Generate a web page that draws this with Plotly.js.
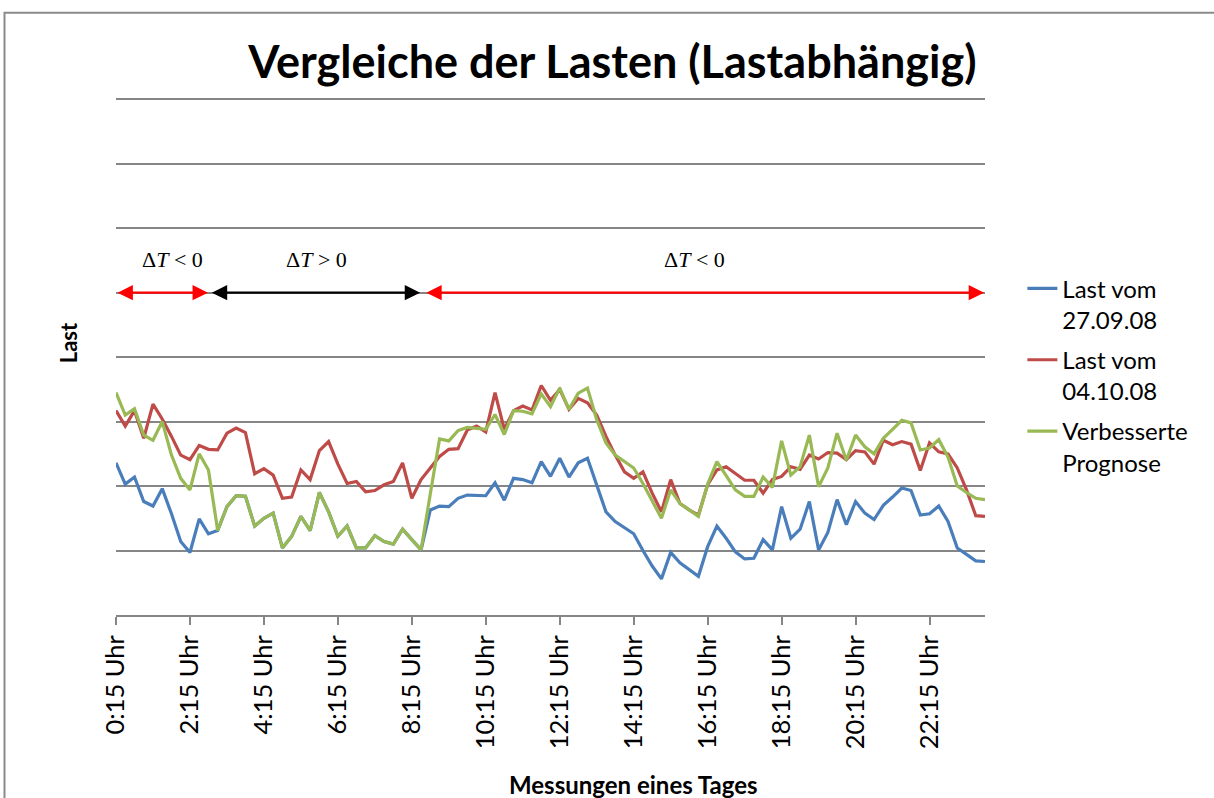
<!DOCTYPE html>
<html>
<head>
<meta charset="utf-8">
<script src="https://cdn.plot.ly/plotly-3.0.1.min.js"></script>
<style>
  html, body { margin: 0; padding: 0; background: #ffffff; }
  #chart { width: 1214px; height: 798px; }
</style>
</head>
<body>
<div id="chart"></div>
<script>
// Categories: quarter-hour measurements of one day
const times = [
  "0:15 Uhr","0:30 Uhr","0:45 Uhr","1:00 Uhr","1:15 Uhr","1:30 Uhr","1:45 Uhr","2:00 Uhr",
  "2:15 Uhr","2:30 Uhr","2:45 Uhr","3:00 Uhr","3:15 Uhr","3:30 Uhr","3:45 Uhr","4:00 Uhr",
  "4:15 Uhr","4:30 Uhr","4:45 Uhr","5:00 Uhr","5:15 Uhr","5:30 Uhr","5:45 Uhr","6:00 Uhr",
  "6:15 Uhr","6:30 Uhr","6:45 Uhr","7:00 Uhr","7:15 Uhr","7:30 Uhr","7:45 Uhr","8:00 Uhr",
  "8:15 Uhr","8:30 Uhr","8:45 Uhr","9:00 Uhr","9:15 Uhr","9:30 Uhr","9:45 Uhr","10:00 Uhr",
  "10:15 Uhr","10:30 Uhr","10:45 Uhr","11:00 Uhr","11:15 Uhr","11:30 Uhr","11:45 Uhr","12:00 Uhr",
  "12:15 Uhr","12:30 Uhr","12:45 Uhr","13:00 Uhr","13:15 Uhr","13:30 Uhr","13:45 Uhr","14:00 Uhr",
  "14:15 Uhr","14:30 Uhr","14:45 Uhr","15:00 Uhr","15:15 Uhr","15:30 Uhr","15:45 Uhr","16:00 Uhr",
  "16:15 Uhr","16:30 Uhr","16:45 Uhr","17:00 Uhr","17:15 Uhr","17:30 Uhr","17:45 Uhr","18:00 Uhr",
  "18:15 Uhr","18:30 Uhr","18:45 Uhr","19:00 Uhr","19:15 Uhr","19:30 Uhr","19:45 Uhr","20:00 Uhr",
  "20:15 Uhr","20:30 Uhr","20:45 Uhr","21:00 Uhr","21:15 Uhr","21:30 Uhr","21:45 Uhr","22:00 Uhr",
  "22:15 Uhr","22:30 Uhr","22:45 Uhr","23:00 Uhr","23:15 Uhr","23:30 Uhr","23:45 Uhr"
];

// Series (relative load)
const last270908 = [
  23.6,20.3,21.4,17.6,16.9,19.6,15.7,11.4,9.7,14.9,12.6,
  13.1,16.8,18.5,18.4,13.8,15.0,15.8,10.4,12.2,15.3,13.1,19.0,16.0,12.2,13.8,10.4,10.4,12.3,11.4,11.0,13.3,11.7,10.1,
  16.3,16.9,16.8,18.1,18.6,18.5,18.5,20.5,17.8,21.2,21.0,20.5,23.8,21.5,24.3,21.4,23.6,24.3,20.2,16.0,14.5,13.5,
  12.6,10.0,7.6,5.6,9.7,8.1,7.0,6.0,10.6,13.8,11.9,9.8,8.7,8.8,11.7,10.1,16.8,11.9,13.3,17.6,10.1,12.8,17.9,14.0,
  17.6,15.8,14.8,17.0,18.3,19.7,19.3,15.5,15.7,16.9,14.5,10.4,9.4,8.4,8.3
];
const last041008 = [
  31.7,29.3,31.7,27.4,32.7,30.4,27.7,24.8,24.1,26.3,25.7,25.6,28.2,29.0,28.3,21.9,
  22.7,21.7,18.1,18.3,22.5,21.0,25.5,26.9,23.4,20.4,20.7,19.1,19.3,20.2,20.7,23.6,
  18.1,21.0,22.8,24.6,25.7,25.8,28.7,29.3,28.4,34.5,28.8,31.7,32.4,31.8,35.6,33.3,
  35.0,31.9,33.6,32.9,31.0,27.7,24.8,22.2,21.2,22.2,18.9,16.0,21.0,17.3,16.3,15.5,
  20.2,22.5,23.0,22.0,20.9,20.9,18.9,21.0,21.5,23.0,22.6,24.8,24.2,25.2,25.1,24.1,
  25.5,25.3,23.4,27.1,26.4,26.9,26.5,22.4,26.7,25.3,25.0,22.8,19.4,15.4,15.3
];
const prognose = [
  34.5,31.0,32.0,27.9,27.1,30.0,24.8,21.2,19.4,25.0,22.5,
  13.1,16.8,18.5,18.4,13.8,15.0,15.8,10.4,12.2,15.3,13.1,19.0,16.0,12.2,13.8,10.4,10.4,12.3,11.4,11.0,13.3,11.7,10.1,
  18.8,27.3,27.0,28.6,29.1,29.0,28.8,31.1,28.0,31.7,31.6,31.2,34.3,32.3,35.2,31.9,34.4,35.2,30.3,26.7,24.8,23.8,
  22.8,20.4,17.6,15.0,19.4,17.3,16.3,15.3,20.3,23.8,21.6,19.4,18.4,18.4,21.4,19.8,27.0,21.7,23.0,27.9,19.9,22.8,
  28.2,24.0,27.9,26.1,25.0,27.4,28.8,30.2,29.8,25.6,25.9,27.2,24.5,20.0,19.0,18.1,17.9
];

const seriesNames = ["Last vom<br>27.09.08", "Last vom<br>04.10.08", "Verbesserte<br>Prognose"];

// Temperature phases (category index ranges) and their labels
const phaseStart = [0, 10.2, 33.4];
const phaseEnd   = [9.95, 32.9, 93.9];
const phaseLabel = ["Δ<i>T</i> &lt; 0", "Δ<i>T</i> &gt; 0", "Δ<i>T</i> &lt; 0"];
const phaseColor = ["#ff0000", "#000000", "#ff0000"];
const phaseLabelX = [6.1, 21.7, 62.6];

const FONT = "Lato, 'Open Sans', sans-serif";
const colors = ["#4a7ebb", "#be4b48", "#98b954"];
const seriesData = [last270908, last041008, prognose];

const traces = seriesData.map((vals, k) => ({
  type: "scatter",
  mode: "lines",
  x: times,
  y: vals,
  name: seriesNames[k],
  legendgroup: "g" + k,
  line: { color: colors[k], width: 3.2 },
  hoverinfo: "skip"
}));

const annotations = [];
for (let k = 0; k < phaseStart.length; k++) {
  annotations.push({
    xref: "x", yref: "y", axref: "x", ayref: "y",
    x: phaseEnd[k], y: 50, ax: phaseStart[k], ay: 50,
    text: "", showarrow: true, arrowside: "end+start",
    arrowhead: 2, arrowsize: 1.4, arrowwidth: 2.2, arrowcolor: phaseColor[k],
    standoff: 0, startstandoff: 0
  });
  annotations.push({
    xref: "x", yref: "y", x: phaseLabelX[k], y: 55.2,
    text: phaseLabel[k], showarrow: false,
    font: { family: "'Liberation Serif', 'DejaVu Serif', serif", size: 22, color: "#000" },
    xanchor: "center", yanchor: "middle"
  });
}
// Axis titles (placed like the original, off-centre)
annotations.push({
  xref: "paper", yref: "paper", x: 0.596, y: -0.327,
  text: "<b>Messungen eines Tages</b>", showarrow: false,
  font: { family: FONT, size: 24, color: "#000" },
  xanchor: "center", yanchor: "middle"
});
annotations.push({
  xref: "paper", yref: "paper", x: -0.0552, y: 0.5236,
  text: "<b>Last</b>", showarrow: false, textangle: -90,
  font: { family: FONT, size: 22, color: "#000" },
  xanchor: "center", yanchor: "middle"
});

const layout = {
  width: 1214, height: 798,
  paper_bgcolor: "#ffffff", plot_bgcolor: "#ffffff",
  margin: { l: 116, r: 229, t: 96, b: 183, pad: 0 },
  font: { family: FONT, color: "#000" },
  title: {
    text: "<b>Vergleiche der Lasten (Lastabhängig)</b>",
    font: { family: FONT, size: 45, color: "#000" },
    xref: "container", x: 0.5045, xanchor: "center",
    yref: "container", y: 0.922, yanchor: "middle"
  },
  xaxis: {
    type: "category",
    range: [0, 94],
    tickmode: "linear", tick0: 0, dtick: 8,
    tickangle: -90,
    tickfont: { family: FONT, size: 25.5, color: "#000" },
    ticks: "outside", ticklen: 8, tickwidth: 2, tickcolor: "#868686",
    showline: true, linecolor: "#868686", linewidth: 2,
    showgrid: false, zeroline: false,
    automargin: false
  },
  yaxis: {
    range: [0, 80.5], dtick: 10, tick0: 0,
    showticklabels: false, ticks: "",
    showgrid: true, gridcolor: "#868686", gridwidth: 2,
    zeroline: false, showline: false,
    automargin: false
  },
  legend: {
    x: 1.043, xanchor: "left", y: 0.672, yanchor: "top",
    font: { family: FONT, size: 24, color: "#000" },
    valign: "top", bgcolor: "rgba(0,0,0,0)",
    traceorder: "grouped", tracegroupgap: 6
  },
  showlegend: true,
  hovermode: false,
  annotations: annotations,
  shapes: [{
    type: "rect", xref: "paper", yref: "paper", layer: "below",
    x0: -0.1283, x1: 1.3, y0: -0.6, y1: 1.1606,
    line: { color: "#8a8a8a", width: 2 }, fillcolor: "rgba(0,0,0,0)"
  }]
};

Plotly.newPlot("chart", traces, layout, { displayModeBar: false, staticPlot: true });
</script>
</body>
</html>
